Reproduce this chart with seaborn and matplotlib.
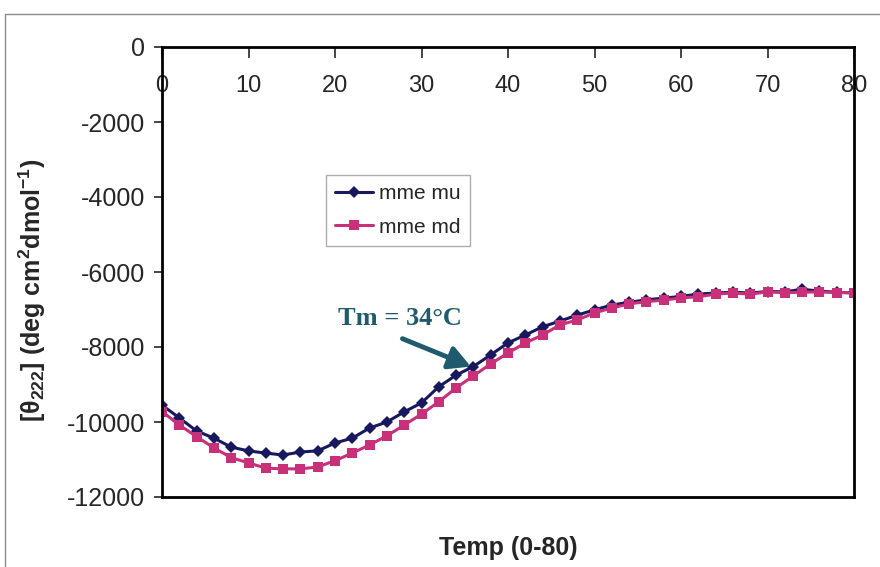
import pandas as pd
import numpy as np
import seaborn as sns
import matplotlib.pyplot as plt

temp = list(range(0, 82, 2))

mme_mu = [-9550, -9890, -10240, -10430, -10670, -10770, -10830, -10880, -10800, -10770,
          -10560, -10430, -10160, -10000, -9730, -9490, -9060, -8750, -8520, -8210,
          -7890, -7680, -7460, -7310, -7150, -7010, -6880, -6810, -6740, -6700,
          -6650, -6590, -6560, -6540, -6560, -6520, -6530, -6460, -6510, -6540, -6560]

mme_md = [-9720, -10080, -10390, -10690, -10950, -11090, -11230, -11250, -11250, -11200,
          -11030, -10830, -10610, -10370, -10080, -9790, -9460, -9090, -8770, -8450,
          -8160, -7890, -7680, -7410, -7280, -7090, -6960, -6850, -6790, -6750,
          -6690, -6660, -6590, -6560, -6590, -6530, -6550, -6540, -6530, -6550, -6550]

yticks = [0, -2000, -4000, -6000, -8000, -10000, -12000]
xticks = [0, 10, 20, 30, 40, 50, 60, 70, 80]

df = pd.DataFrame({'temp': temp, 'mme mu': mme_mu, 'mme md': mme_md})
data = df.melt(id_vars='temp', var_name='sample', value_name='value')

sns.set_style("white")
plt.rcParams['font.family'] = ['Liberation Sans', 'DejaVu Sans']
plt.rcParams['mathtext.fontset'] = 'custom'
plt.rcParams['mathtext.rm'] = 'Liberation Sans:bold'
plt.rcParams['mathtext.it'] = 'Liberation Sans:bold'
plt.rcParams['mathtext.bf'] = 'Liberation Sans:bold'

fig = plt.figure(figsize=(8.8, 5.67), dpi=100)
ax = fig.add_axes([162/880, 1-497/567, (854-162)/880, (497-47)/567])

# outer chart frame
fig.add_artist(plt.Line2D([5/880, 1], [1-14/567, 1-14/567], color='#8a8a8a', lw=1))
fig.add_artist(plt.Line2D([5/880, 5/880], [0, 1-14/567], color='#8a8a8a', lw=1))

sns.lineplot(data=data[data['sample'] == 'mme mu'], x='temp', y='value', ax=ax,
             color='#18185e', marker='D', markersize=6, markeredgewidth=0,
             linewidth=2.2, label='mme mu')
sns.lineplot(data=data[data['sample'] == 'mme md'], x='temp', y='value', ax=ax,
             color='#c9307a', marker='s', markersize=7, markeredgewidth=0,
             linewidth=2.2, label='mme md')

ax.set_xlim(0, 80)
ax.set_ylim(-12000, 0)
ax.set_xticks(xticks)
ax.set_yticks(yticks)
ax.set_yticklabels([str(v) for v in yticks], fontsize=18)
ax.set_xticklabels([str(v) for v in xticks], fontsize=17)

ax.xaxis.set_ticks_position('top')
ax.tick_params(axis='x', direction='in', length=8, width=1.2, pad=-36,
               labeltop=True, labelbottom=False)
ax.tick_params(axis='y', direction='out', length=6, width=1.2, left=True, pad=6)

for s in ax.spines.values():
    s.set_color('black')
    s.set_linewidth(2)

ax.set_xlabel('')
ax.set_ylabel('')
fig.text((162+854)/2/880, 1-548/567, 'Temp (0-80)', ha='center', va='center',
         fontsize=18, fontweight='bold')
fig.text(32/880, 1-290/567, '[θ$_{222}$] (deg cm$^{2}$dmol$^{-1}$)',
         rotation=90, ha='center', va='center', fontsize=18, fontweight='bold')

leg = ax.legend(loc='upper left', bbox_to_anchor=(0.237, 0.716), borderaxespad=0,
                frameon=True, fancybox=False, fontsize=15, handlelength=1.8,
                handletextpad=0.3, borderpad=0.45, labelspacing=0.7)
leg.get_frame().set_edgecolor('#999999')
leg.get_frame().set_linewidth(1)

ax.annotate('', xy=(36, -8550), xytext=(27.5, -7750),
            arrowprops=dict(arrowstyle='-|>,head_length=1.3,head_width=0.7',
                            color='#1f5a6e', lw=3.5))
ax.text(27.5, -7230, 'Tm = 34\u00b0C', ha='center', va='center', fontsize=19,
        fontweight='bold', color='#1f5a6e', family='Liberation Serif')

plt.savefig('out.png')
plt.close()
